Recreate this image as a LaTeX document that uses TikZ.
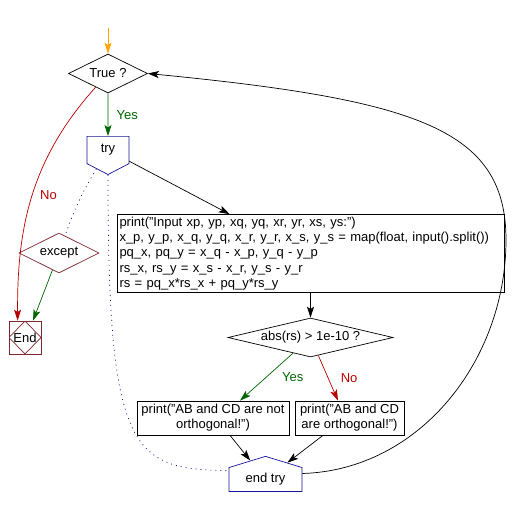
\documentclass[tikz,border=0pt]{standalone}
\usepackage{fontspec}
\setmainfont{Liberation Sans}
\usepackage{xcolor}
\usetikzlibrary{arrows.meta,positioning,shapes.geometric,shapes.symbols}
\definecolor{tryblue}{RGB}{20,20,150}
\definecolor{exceptred}{RGB}{128,40,48}
\definecolor{nored}{RGB}{185,0,0}
\definecolor{yesgreen}{RGB}{0,100,0}
\definecolor{startorange}{RGB}{255,165,0}

\begin{document}
\begin{tikzpicture}[x=1pt,y=-1pt,>={Stealth[length=11pt,width=7pt,inset=2.5pt]},on grid,line width=0.7pt,
  font=\fontsize{13}{15.2}\selectfont,
  decide/.style={diamond,draw,inner sep=0pt,aspect=2},
  trybox/.style={signal,draw=tryblue,signal from=nowhere,inner sep=0pt},
  process/.style={rectangle,draw,inner sep=2.5pt},
  endbox/.style={rectangle,draw=exceptred,inner sep=0pt,minimum width=32pt,minimum height=33pt,
    path picture={\draw[exceptred] (path picture bounding box.north) -- (path picture bounding box.east)
      -- (path picture bounding box.south) -- (path picture bounding box.west) -- cycle;}}]
  \useasboundingbox (0,0) rectangle (520,508);
  \node[decide,minimum width=79pt,minimum height=39pt]      (T) at (108,73.5)  {True ?};
  \coordinate [above=45.5pt of T]                           (s);
  \node[trybox,signal to=south,signal pointer angle=125,minimum width=42pt,minimum height=31pt]
                                                            (try) [below=76.5pt of T] {try};
  \node[process,minimum width=387pt,minimum height=77pt,text width=382pt,align=left]
                                                            (P) [below right=103.5pt and 202.5pt of try]
    {print("Input xp, yp, xq, yq, xr, yr, xs, ys:")\\
     x\_p, y\_p, x\_q, y\_q, x\_r, y\_r, x\_s, y\_s = map(float, input().split())\\
     pq\_x, pq\_y = x\_q - x\_p, y\_q - y\_p\\
     rs\_x, rs\_y = x\_s - x\_r, y\_s - y\_r\\
     rs = pq\_x*rs\_x + pq\_y*rs\_y};
  \node[decide,aspect=4.2,minimum width=165pt,minimum height=39pt]
                                                            (D) [below=84pt of P]       {abs(rs) > 1e-10 ?};
  \node[process,minimum width=152pt,minimum height=34pt,align=center]
                                                            (L) [below left=80.5pt and 97.5pt of D]
    {print("AB and CD are not\\ orthogonal!")};
  \node[process,minimum width=109pt,minimum height=34pt,align=center]
                                                            (R) [right=136.5pt of L]
    {print("AB and CD\\ are orthogonal!")};
  \node[trybox,signal to=north,signal pointer angle=146,minimum width=73pt,minimum height=30pt]
                                                            (E) [below right=61.5pt and 52.5pt of L] {end try};
  \node[decide,draw=exceptred,minimum width=80pt,minimum height=40pt]
                                                            (X) [below left=103pt and 49pt of try] {except};
  \node[endbox]                                             (End) [below left=84.5pt and 34pt of X] {End};
\tikzset{flow/.style={->}}
\path (s)     edge [flow,startorange]        (T)
      (T)     edge [flow,yesgreen]  node [right=5pt] {Yes} (try)
      (try)   edge [flow]                    ([xshift=113pt]P.north west)
      (P)     edge [flow]                    (D)
      (D)     edge [flow,yesgreen]  node [right=12pt] {Yes} ([xshift=27pt]L.north)
      (D)     edge [flow,nored]     node [right=9pt] {No} ([xshift=-11.5pt]R.north)
      ([xshift=17pt]L.south)   edge [flow]   (E)
      ([xshift=-26.5pt]R.south) edge [flow]  (E)
      (X)     edge [flow,yesgreen]           ([xshift=8pt]End.north);
\tikzset{dotline/.style={draw=tryblue,dash pattern=on 1pt off 4pt}}
\path (try)   edge [dotline,bend right=6]    (X);
\draw [dotline] (try.south) .. controls (108,450) and (130,470) .. ([yshift=9pt]E.west);
\draw [flow,nored] (T) .. controls (30,160) and (17,230) .. node [pos=0.49,right=4pt] {No} ([xshift=9pt]End.north west);
\draw [flow] ([yshift=6pt]E.east) .. controls (420,470) and (506,360) .. (506,240)
      .. controls (506,130) and (420,100) .. (T.east);
\end{tikzpicture}
\end{document}
